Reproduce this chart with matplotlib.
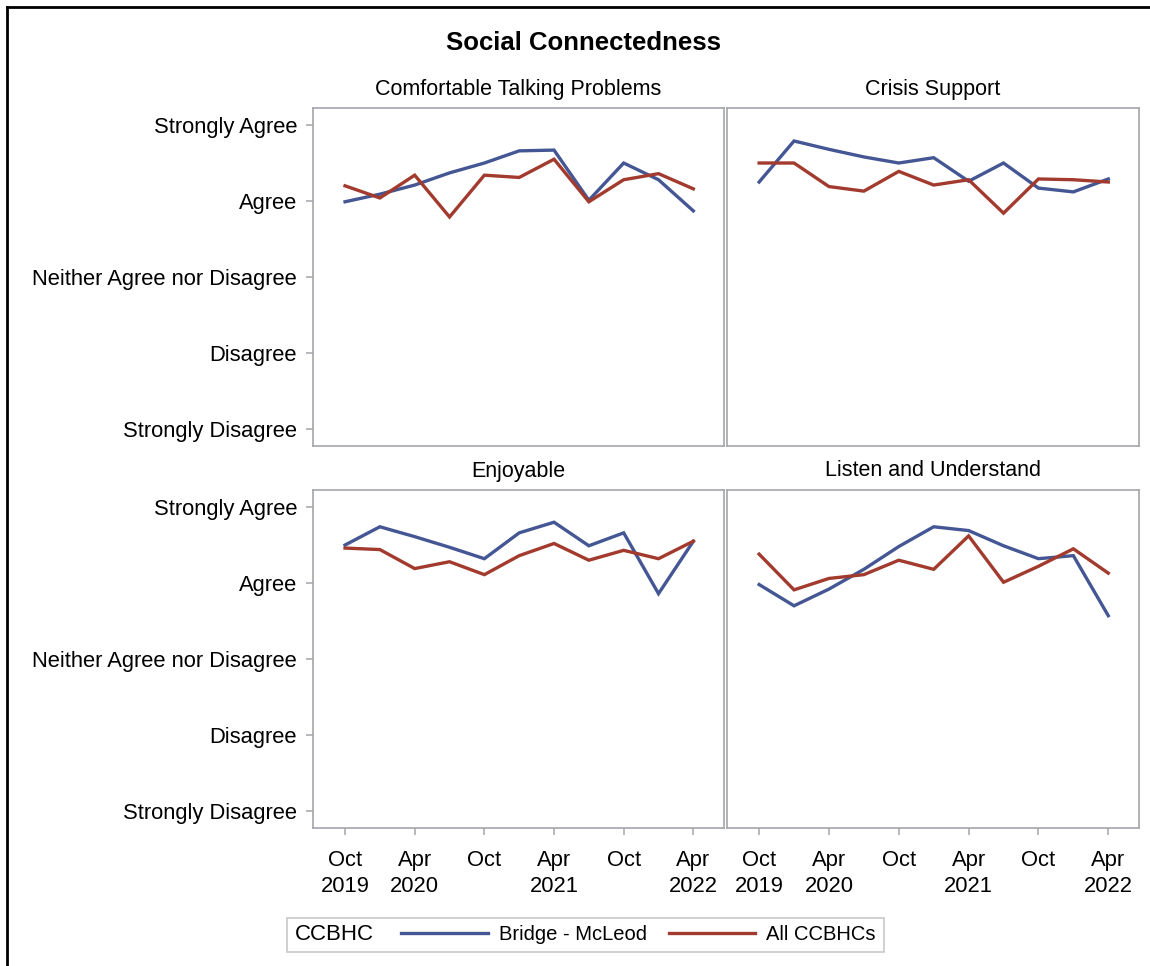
import matplotlib.pyplot as plt
from matplotlib.lines import Line2D
from matplotlib.patches import Rectangle

# quarterly survey waves, Oct 2019 .. Apr 2022
quarters = ['Oct 2019', 'Jan 2020', 'Apr 2020', 'Jul 2020', 'Oct 2020', 'Jan 2021',
            'Apr 2021', 'Jul 2021', 'Oct 2021', 'Jan 2022', 'Apr 2022']
tick_idx = [0, 2, 4, 6, 8, 10]
tick_labels = ['Oct\n2019', 'Apr\n2020', 'Oct', 'Apr\n2021', 'Oct', 'Apr\n2022']

scale_vals = [1, 2, 3, 4, 5]
scale_labels = ['Strongly Disagree', 'Disagree', 'Neither Agree nor Disagree',
                'Agree', 'Strongly Agree']

panels = ['Comfortable Talking Problems', 'Crisis Support', 'Enjoyable', 'Listen and Understand']

bridge = [
    [3.99, 4.09, 4.21, 4.37, 4.50, 4.66, 4.67, 4.01, 4.50, 4.28, 3.87],
    [4.25, 4.79, 4.68, 4.58, 4.50, 4.57, 4.26, 4.50, 4.17, 4.12, 4.29],
    [4.50, 4.74, 4.61, 4.47, 4.32, 4.66, 4.80, 4.49, 4.66, 3.86, 4.55],
    [3.98, 3.70, 3.92, 4.18, 4.48, 4.74, 4.69, 4.49, 4.32, 4.36, 3.57],
]
all_ccbhc = [
    [4.20, 4.04, 4.34, 3.79, 4.34, 4.31, 4.55, 3.99, 4.28, 4.36, 4.16],
    [4.50, 4.50, 4.19, 4.13, 4.39, 4.21, 4.28, 3.84, 4.29, 4.28, 4.25],
    [4.46, 4.44, 4.19, 4.28, 4.11, 4.36, 4.52, 4.30, 4.43, 4.32, 4.55],
    [4.38, 3.91, 4.06, 4.11, 4.30, 4.18, 4.62, 4.01, 4.22, 4.45, 4.13],
]

BLUE = '#445694'
RED = '#A23A2E'
GRAY = '#a3a6aa'
W, H = 1150, 966

plt.rcParams['font.family'] = ['Liberation Sans', 'DejaVu Sans']

fig = plt.figure(figsize=(W / 100, H / 100), dpi=100, facecolor='white')


def px_rect(x0, y0, x1, y1):
    return [x0 / W, 1 - y1 / H, (x1 - x0) / W, (y1 - y0) / H]


boxes = [(313, 108, 724, 446), (727, 108, 1139, 446),
         (313, 490, 724, 828), (727, 490, 1139, 828)]
x = list(range(len(quarters)))

for i, (name, box) in enumerate(zip(panels, boxes)):
    ax = fig.add_axes(px_rect(*box))
    ax.plot(x, bridge[i], color=BLUE, lw=2.4, solid_joinstyle='miter')
    ax.plot(x, all_ccbhc[i], color=RED, lw=2.4, solid_joinstyle='miter')
    ax.set_xlim(-0.92, 10.88)
    ax.set_ylim(0.776, 5.224)
    for s in ax.spines.values():
        s.set_color(GRAY)
        s.set_linewidth(1.2)
    ax.tick_params(colors=GRAY, length=5, width=1.1, labelcolor='black', labelsize=15.8)
    ax.set_yticks(scale_vals)
    ax.set_xticks(tick_idx)
    if i % 2 == 0:
        ax.set_yticklabels(scale_labels)
        ax.tick_params(axis='y', pad=6.5)
    else:
        ax.tick_params(axis='y', left=False, labelleft=False)
    if i >= 2:
        ax.set_xticklabels(tick_labels, linespacing=1.3)
        ax.tick_params(axis='x', pad=11)
    else:
        ax.tick_params(axis='x', bottom=False, labelbottom=False)
    ax.text(0.5, 1.0 + 19 / 338, name, transform=ax.transAxes, ha='center',
            va='center', fontsize=15.5)

fig.text(584 / W, 1 - 43 / H, 'Social Connectedness', ha='center', va='center',
         fontsize=18.5, fontweight='bold')

# legend
handles = [Line2D([], [], color=BLUE, lw=2.4), Line2D([], [], color=RED, lw=2.4)]
fig.legend(handles, ['Bridge - McLeod', 'All CCBHCs'], loc='center left',
           bbox_to_anchor=(401 / W, 1 - 935 / H), ncol=2, frameon=False,
           fontsize=14.5, handlelength=4.3, handletextpad=0.55, columnspacing=1.1,
           borderpad=0, borderaxespad=0)
fig.text(295 / W, 1 - 935 / H, 'CCBHC', ha='left', va='center', fontsize=16)
fig.patches.append(Rectangle((287 / W, 1 - 952 / H), (884 - 287) / W, 34 / H,
                             transform=fig.transFigure, fill=False,
                             edgecolor='#c8c8c8', lw=1.2))

# outer screenshot frame (left and top)
fig.add_artist(Line2D([7 / W, 7 / W], [0, 1 - 7 / H], color='black', lw=2,
                      transform=fig.transFigure))
fig.add_artist(Line2D([7 / W, 1], [1 - 7 / H, 1 - 7 / H], color='black', lw=2,
                      transform=fig.transFigure))

fig.savefig('out.png', dpi=100, facecolor='white')
